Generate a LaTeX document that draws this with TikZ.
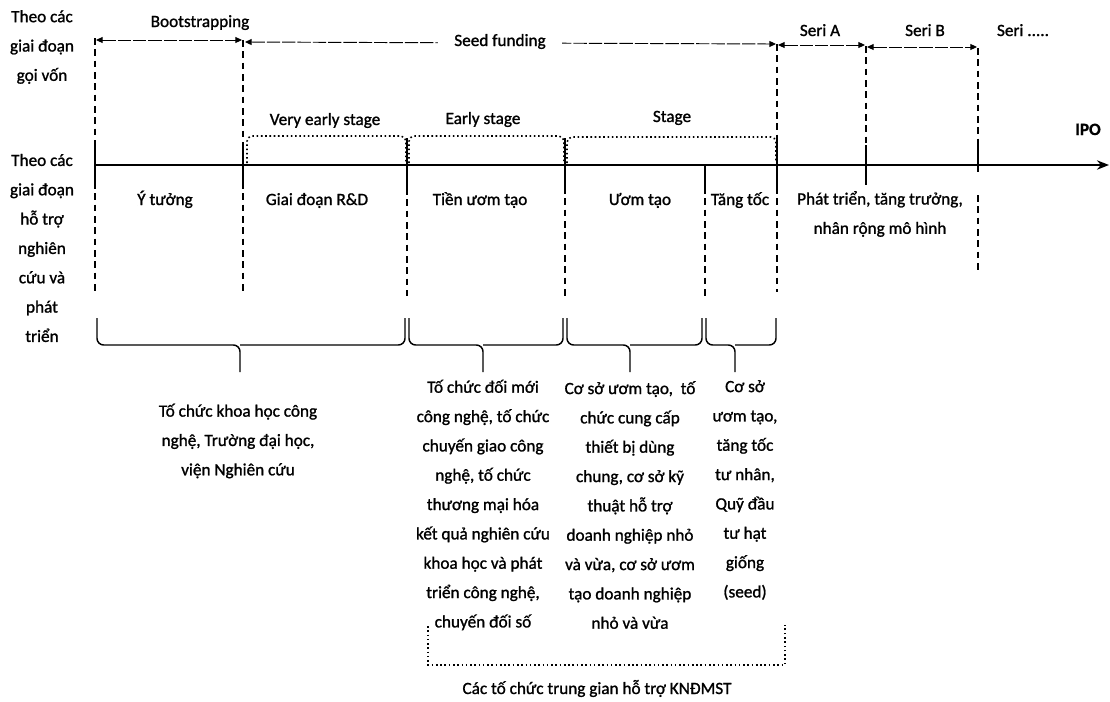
\documentclass[tikz,border=0pt]{standalone}
\usepackage{fontspec}
\setmainfont{Carlito}[RawFeature={embolden=1.2}]
\usetikzlibrary{arrows.meta}
\begin{document}
\begin{tikzpicture}[x=0.75pt,y=-0.75pt,
 txt/.style={font=\fontsize{12.9}{22}\selectfont,align=center,inner sep=0pt},
 axisline/.style={line width=1.6pt,-{Stealth[length=9pt,width=7pt]}},
 solidtick/.style={line width=1.2pt},
 dashtick/.style={line width=1.1pt,dash pattern=on 5pt off 3.5pt},
 topspan/.style={line width=0.7pt,dash pattern=on 10pt off 1.5pt,{Triangle[length=5pt,width=4.5pt]}-{Triangle[length=5pt,width=4.5pt]}},
 stagebox/.style={line width=1.2pt,dotted,rounded corners=4pt},
 bracepath/.style={line width=1.1pt,rounded corners=5pt}]

\useasboundingbox (0,0) rectangle (1110,701);

% ---------- left labels
\node[txt] (lblA) at (42,47) {Theo các\\giai đoạn\\gọi vốn};
\node[txt] (lblB) at (42,248) {Theo các\\giai đoạn\\hỗ trợ\\nghiên\\cứu và\\phát\\triển};

% ---------- timeline
\coordinate (ax0) at (95,165);
\coordinate (ax1) at (1109,165);
\draw[axisline] (ax0) -- (ax1);

% ---------- vertical separators
% x = 95
\coordinate (a0) at (95,38); \coordinate (a1) at (95,143); \coordinate (a2) at (95,182); \coordinate (a3) at (95,292);
\draw[dashtick] (a0) -- (a1); \draw[solidtick] (a1) -- (a2); \draw[dashtick] (a2) -- (a3);
% x = 243
\coordinate (b0) at (243,40); \coordinate (b1) at (243,142); \coordinate (b2) at (243,182); \coordinate (b3) at (243,292);
\draw[dashtick] (b0) -- (b1); \draw[solidtick] (b1) -- (b2); \draw[dashtick] (b2) -- (b3);
% x = 407
\coordinate (c1) at (407,138); \coordinate (c2) at (407,188); \coordinate (c3) at (407,296);
\draw[solidtick] (c1) -- (c2); \draw[dashtick] (c2) -- (c3);
% x = 565
\coordinate (d1) at (565,138); \coordinate (d2) at (565,187); \coordinate (d3) at (565,296);
\draw[solidtick] (d1) -- (d2); \draw[dashtick] (d2) -- (d3);
% x = 705
\coordinate (e1) at (705,165); \coordinate (e2) at (705,187); \coordinate (e3) at (705,300);
\draw[solidtick] (e1) -- (e2); \draw[dashtick] (e2) -- (e3);
% x = 777
\coordinate (f0) at (777,44); \coordinate (f1) at (777,140); \coordinate (f2) at (777,187); \coordinate (f3) at (777,292);
\draw[dashtick] (f0) -- (f1); \draw[solidtick] (f1) -- (f2); \draw[dashtick] (f2) -- (f3);
% x = 866
\coordinate (g0) at (866,46); \coordinate (g1) at (866,145); \coordinate (g2) at (866,185);
\draw[dashtick] (g0) -- (g1); \draw[solidtick] (g1) -- (g2);
% x = 978
\coordinate (h0) at (978,48); \coordinate (h1) at (978,145); \coordinate (h2) at (978,172); \coordinate (h3) at (978,195); \coordinate (h4) at (978,272);
\draw[dashtick] (h0) -- (h1); \draw[solidtick] (h1) -- (h2); \draw[dashtick] (h3) -- (h4);

% ---------- funding spans
\coordinate (p0) at (96,40); \coordinate (p1) at (242,40);
\draw[topspan] (p0) -- (p1);
\node[txt,anchor=base] (boot) at (200,27) {Bootstrapping};
\coordinate (q0) at (245,42); \coordinate (q1) at (776,44);
\draw[topspan] (q0) -- (q1);
\node[txt,anchor=base,fill=white,inner xsep=12pt,inner ysep=4pt] (seed) at (500,46) {Seed funding};
\coordinate (r0) at (778,45); \coordinate (r1) at (865,45);
\draw[topspan] (r0) -- (r1);
\node[txt,anchor=base] (seriA) at (820,36) {Seri A};
\coordinate (s0) at (867,47); \coordinate (s1) at (977,47);
\draw[topspan] (s0) -- (s1);
\node[txt,anchor=base] (seriB) at (925,36) {Seri B};
\node[txt,anchor=base] (seriN) at (1023,36) {Seri .....};
\node[txt,anchor=base,font=\fontsize{12.9}{22}\selectfont\bfseries] (ipo) at (1088,135) {IPO};

% ---------- stage boxes (dotted)
\draw[stagebox] (247,163) -- (247,136) -- (406,136) -- (406,163);
\draw[stagebox] (409,163) -- (409,136) -- (564,136) -- (564,163);
\draw[stagebox] (567,163) -- (567,137) -- (776,137) -- (776,163);
\node[txt,anchor=base] (vearly) at (325,125) {Very early stage};
\node[txt,anchor=base] (early) at (483,124) {Early stage};
\node[txt,anchor=base] (stage) at (672,122) {Stage};

% ---------- phase labels
\node[txt,anchor=base] (idea) at (165,205) {Ý tưởng};
\node[txt,anchor=base] (rd) at (317,205) {Giai đoạn R\&D};
\node[txt,anchor=base] (preinc) at (480,205) {Tiền ươm tạo};
\node[txt,anchor=base] (inc) at (640,205) {Ươm tạo};
\node[txt,anchor=base] (acc) at (740,205) {Tăng tốc};
\node[txt] (grow) at (880,214) {Phát triển, tăng trưởng,\\nhân rộng mô hình};

% ---------- braces
\coordinate (br1) at (240,372);
\draw[bracepath] (97,318) -- (97,345) -- (240,345) -- (br1);
\draw[bracepath] (405,318) -- (405,345) -- (240,345);
\coordinate (br2) at (483,372);
\draw[bracepath] (409,318) -- (409,345) -- (483,345) -- (br2);
\draw[bracepath] (563,318) -- (563,345) -- (483,345);
\coordinate (br3) at (630,372);
\draw[bracepath] (567,318) -- (567,345) -- (630,345) -- (br3);
\draw[bracepath] (702,318) -- (702,345) -- (630,345);
\coordinate (br4) at (735,372);
\draw[bracepath] (706,318) -- (706,345) -- (735,345) -- (br4);
\draw[bracepath] (776,318) -- (776,345) -- (735,345);

% ---------- organisation texts
\node[txt] (org1) at (238,441) {Tố chức khoa học công\\nghệ, Trường đại học,\\viện Nghiên cứu};
\node[txt] (org2) at (483,505) {Tố chức đối mới\\công nghệ, tố chức\\chuyến giao công\\nghệ, tố chức\\thương mại hóa\\kết quả nghiên cứu\\khoa học và phát\\triển công nghệ,\\chuyến đối số};
\node[txt] (org3) at (630,505) {Cơ sở ươm tạo,~ tố\\chức cung cấp\\thiết bị dùng\\chung, cơ sở kỹ\\thuật hỗ trợ\\doanh nghiệp nhỏ\\và vừa, cơ sở ươm\\tạo doanh nghiệp\\nhỏ và vừa};
\node[txt] (org4) at (745,490) {Cơ sở\\ươm tạo,\\tăng tốc\\tư nhân,\\Quỹ đầu\\tư hạt\\giống\\(seed)};

% ---------- intermediary bracket
\coordinate (m0) at (428,626); \coordinate (m1) at (428,665);
\coordinate (m2) at (785,665); \coordinate (m3) at (785,625);
\draw[line width=1.2pt,dotted] (m0) -- (m1) -- (m2) -- (m3);
\node[txt,anchor=base] (inter) at (597,694) {Các tố chức trung gian hỗ trợ KNĐMST};

\end{tikzpicture}
\end{document}
